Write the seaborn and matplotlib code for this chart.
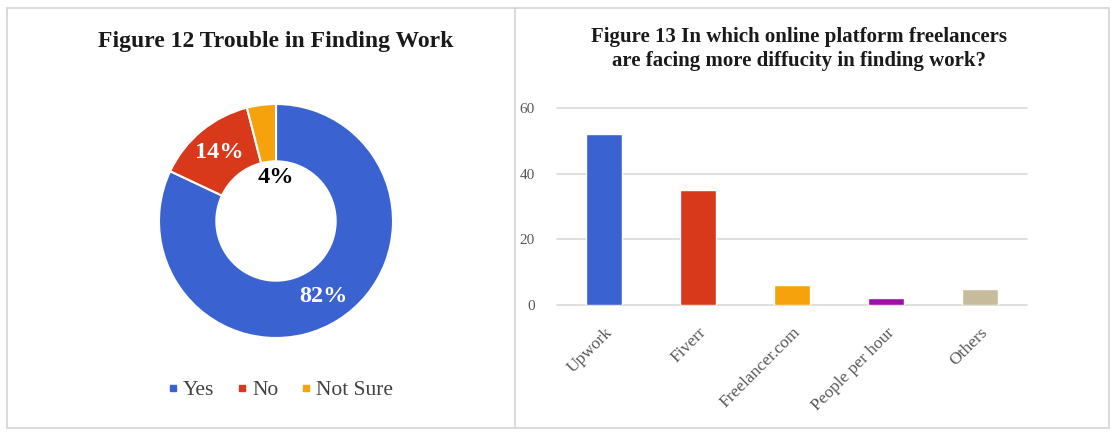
import matplotlib
matplotlib.use("Agg")
import matplotlib.pyplot as plt
from matplotlib.lines import Line2D
from matplotlib.patches import Rectangle
import seaborn as sns
import pandas as pd
import numpy as np

# ---- data ----
pie_labels = ["Yes", "No", "Not Sure"]
pie_values = [82, 14, 4]
pie_colors = ["#3A62D0", "#D8391B", "#F5A20C"]

platforms = ["Upwork", "Fiverr", "Freelancer.com", "People per hour", "Others"]
platform_counts = [52, 35, 6, 2, 5]
bar_colors = ["#3A62D0", "#D8391B", "#F5A20C", "#9C10AA", "#C6BC9C"]
y_ticks = [0, 20, 40, 60]

sns.set_theme(style="white")
plt.rcParams["font.family"] = ["Liberation Serif", "DejaVu Serif"]

W, H = 1111, 432
fig = plt.figure(figsize=(W / 100, H / 100), dpi=100)

def fx(px):
    return px / W

def fy(py):
    return 1 - py / H

# panel borders
border = "#D4D4D4"
fig.add_artist(Rectangle((fx(7), fy(428)), fx(1109 - 7), (428 - 8) / H,
                         transform=fig.transFigure, fill=False, edgecolor=border, lw=1.2))
fig.add_artist(Line2D([fx(515), fx(515)], [fy(8), fy(428)], transform=fig.transFigure,
                      color=border, lw=1.2))

# ---- donut ----
cx, cy, r = 276, 221, 117
ax1 = fig.add_axes([fx(cx - r), fy(cy + r), 2 * r / W, 2 * r / H])
wedges, texts, autotexts = ax1.pie(
    pie_values, colors=pie_colors, startangle=90, counterclock=False,
    autopct="%d%%", pctdistance=0.76,
    wedgeprops=dict(width=0.49, edgecolor="white", linewidth=1.5),
    textprops=dict(fontsize=17.5, fontweight="bold", color="white"),
)
autotexts[2].set_color("black")
autotexts[2].set_position((0, 0.37))
ax1.set_xlim(-1, 1)
ax1.set_ylim(-1, 1)
ax1.set_aspect("equal")
ax1.axis("off")

fig.text(fx(276), fy(42), "Figure 12 Trouble in Finding Work", ha="center", va="center",
         fontsize=17, fontweight="bold", color="#1a1a1a")

handles = [Line2D([], [], marker="s", linestyle="none", markersize=5,
                  markerfacecolor=c, markeredgecolor=c) for c in pie_colors]
fig.legend(handles, pie_labels, loc="center", bbox_to_anchor=(fx(280), fy(390)),
           ncol=3, frameon=False, fontsize=15.5, handletextpad=0.15, handlelength=0.6,
           columnspacing=1.0, labelcolor="#404040")

# ---- bar chart ----
ax2 = fig.add_axes([fx(557), fy(305), fx(1027 - 557), (305 - 108) / H])
df = pd.DataFrame({"platform": platforms, "count": platform_counts})
sns.barplot(data=df, x="platform", y="count", hue="platform", palette=bar_colors,
            width=0.39, legend=False, ax=ax2, saturation=1)
ax2.set_ylim(0, 60)
ax2.set_yticks(y_ticks)
ax2.set_xlim(-0.5, len(platforms) - 0.5)
ax2.set_xlabel("")
ax2.set_ylabel("")
ax2.yaxis.grid(True, color="#D9D9D9", linewidth=1.2)
ax2.set_axisbelow(True)
for s in ax2.spines.values():
    s.set_visible(False)
for gl in ax2.get_ygridlines():
    gl.set_clip_on(False)
ax2.tick_params(axis="y", length=0, pad=16, labelsize=11, labelcolor="#595959")
ax2.tick_params(axis="x", length=0, pad=14, labelsize=12.5, labelcolor="#595959")
for lab in ax2.get_xticklabels():
    lab.set_rotation(45)
    lab.set_ha("right")
    lab.set_rotation_mode("anchor")

fig.text(fx(799), fy(49), "Figure 13 In which online platform freelancers\nare facing more diffucity in finding work?",
         ha="center", va="center", fontsize=15, fontweight="bold", color="#1a1a1a",
         linespacing=1.3)

fig.savefig("out.png", dpi=100, facecolor="white")
